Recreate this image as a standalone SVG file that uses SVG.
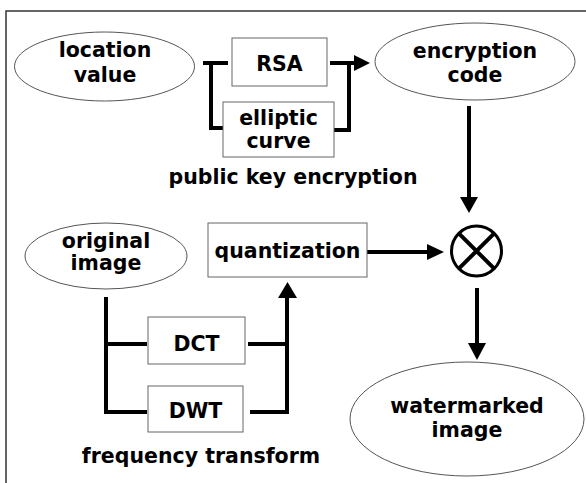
<svg xmlns="http://www.w3.org/2000/svg" width="586" height="483" viewBox="0 0 586 483">
<style>
.bg{fill:#fff}
.frame{fill:none;stroke:#333;stroke-width:1.5}
.ell{fill:#fff;stroke:#555;stroke-width:1}
.box{fill:#fff;stroke:#666;stroke-width:1}
.t{font-family:"DejaVu Sans","Verdana",sans-serif;font-weight:bold;font-size:20.5px;fill:#000;text-anchor:middle}
.ln{fill:none;stroke:#000;stroke-width:4;stroke-linejoin:miter;stroke-linecap:butt}
.hd{fill:#000;stroke:none}
</style>
<rect class="bg" x="0" y="0" width="586" height="483"/>
<path class="frame" d="M6,483 V11 H586"/>

<g id="connectors">
  <path class="ln" d="M203,63 H228 M211,61 V128 H223"/>
  <path class="ln" d="M330,63 H356 M334,130 H349 V61"/>
  <polygon class="hd" points="354,55 370,63 354,71"/>
  <path class="ln" d="M469,106 V198"/>
  <polygon class="hd" points="460,197 478,197 469,213"/>
  <path class="ln" d="M367,252 H429"/>
  <polygon class="hd" points="427,244 444,252 427,260"/>
  <path class="ln" d="M477,288 V345"/>
  <polygon class="hd" points="468,343 486,343 477,360"/>
  <path class="ln" d="M106,297 V412 H147 M106,344 H147"/>
  <path class="ln" d="M248,344 H287 M250,412 H287 V296"/>
  <polygon class="hd" points="278,298 297,298 287.5,282"/>
</g>

<g id="location-value">
  <ellipse class="ell" cx="104.5" cy="66.5" rx="90" ry="34.5"/>
  <text class="t" x="105" y="57">location</text>
  <text class="t" x="105" y="82">value</text>
</g>
<g id="rsa">
  <rect class="box" x="232" y="38" width="95" height="48"/>
  <text class="t" x="279.5" y="71">RSA</text>
</g>
<g id="elliptic-curve">
  <rect class="box" x="223" y="102" width="111" height="55"/>
  <text class="t" x="278.5" y="125">elliptic</text>
  <text class="t" x="278.5" y="148">curve</text>
</g>
<g id="public-key-label">
  <text class="t" x="293" y="184">public key encryption</text>
</g>
<g id="encryption-code">
  <ellipse class="ell" cx="475" cy="61.5" rx="100" ry="38.5"/>
  <text class="t" x="475" y="58">encryption</text>
  <text class="t" x="475" y="82">code</text>
</g>
<g id="original-image">
  <ellipse class="ell" cx="106" cy="256" rx="81" ry="33"/>
  <text class="t" x="106" y="248">original</text>
  <text class="t" x="106" y="270">image</text>
</g>
<g id="quantization">
  <rect class="box" x="208" y="223" width="159" height="54"/>
  <text class="t" x="287.5" y="258">quantization</text>
</g>
<g id="dct">
  <rect class="box" x="148" y="317" width="97" height="47"/>
  <text class="t" x="196.5" y="351">DCT</text>
</g>
<g id="dwt">
  <rect class="box" x="148" y="386" width="95" height="46"/>
  <text class="t" x="195.5" y="418">DWT</text>
</g>
<g id="frequency-label">
  <text class="t" x="201" y="463">frequency transform</text>
</g>
<g id="multiplier">
  <circle cx="476.5" cy="251" r="25" fill="#fff" stroke="#000" stroke-width="3"/>
  <path class="ln" d="M458.8,233.3 L494.2,268.7 M494.2,233.3 L458.8,268.7"/>
</g>
<g id="watermarked-image">
  <ellipse class="ell" cx="467" cy="419" rx="117" ry="57"/>
  <text class="t" x="467" y="413">watermarked</text>
  <text class="t" x="467" y="437">image</text>
</g>
</svg>
